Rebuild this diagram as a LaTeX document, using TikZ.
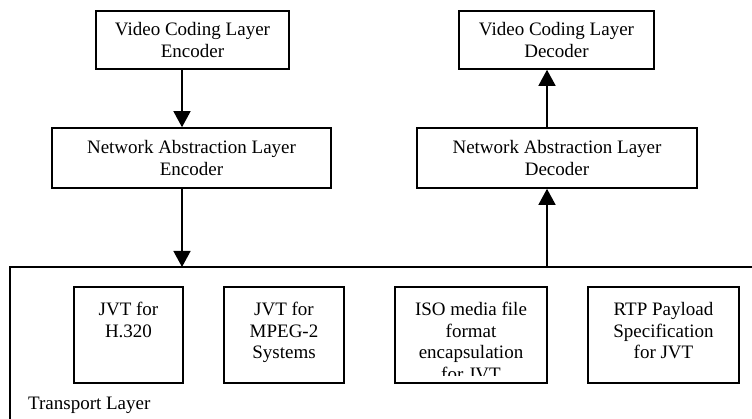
\documentclass[tikz,border=0pt]{standalone}
\usepackage{fontspec}
\setmainfont{Liberation Serif}
\usetikzlibrary{arrows.meta}
\begin{document}
\begin{tikzpicture}[x=1pt,y=-1pt,
  every node/.style={font=\fontsize{19}{21.5}\selectfont},
  layerbox/.style={draw, line width=1.6pt, align=center, inner sep=0pt},
  subbox/.style={draw, line width=1.6pt, inner sep=0pt},
  subtext/.style={align=center, anchor=north, inner sep=0pt},
  flow/.style={line width=1.4pt, -{Triangle[width=17pt,length=16pt]}},
  frame/.style={line width=1.6pt}]
\useasboundingbox (0,0) rectangle (752,419);
% top boxes
\node[layerbox, minimum width=193pt, minimum height=58pt] (vcle) at (192.5,40) {Video Coding Layer\\Encoder};
\node[layerbox, minimum width=279pt, minimum height=60pt] (nale) at (191.5,158) {Network Abstraction Layer\\Encoder};
\node[layerbox, minimum width=195pt, minimum height=58pt] (vcld) at (556.5,40) {Video Coding Layer\\Decoder};
\node[layerbox, minimum width=280pt, minimum height=60pt] (nald) at (557,158) {Network Abstraction Layer\\Decoder};
% transport layer frame
\coordinate (tl) at (10,267);
\coordinate (tbl) at (10,419);
\coordinate (ttr) at (752,267);
\draw[frame] (tbl) -- (tl) -- (ttr);
\coordinate (encx) at (182,0);
\coordinate (decx) at (547,0);
% arrows
\draw[flow] (vcle.south -| encx) -- (nale.north -| encx);
\draw[flow] (nale.south -| encx) -- (encx |- tl);
\draw[flow] (decx |- tl) -- (nald.south -| decx);
\draw[flow] (nald.north -| decx) -- (vcld.south -| decx);
% sub boxes
\node[subbox, minimum width=109pt, minimum height=96pt] (h320) at (128.5,335) {};
\node[subtext] (h320t) at ([yshift=-16pt]h320.north) {JVT for\\H.320};
\node[subbox, minimum width=120pt, minimum height=96pt] (mpeg) at (284,335) {};
\node[subtext] (mpegt) at ([yshift=-16pt]mpeg.north) {JVT for\\MPEG-2\\Systems};
\node[subbox, minimum width=152pt, minimum height=96pt] (iso) at (471,335) {};
\begin{scope}
\clip ([yshift=-1pt]iso.north west) rectangle ([yshift=8.5pt]iso.south east);
\node[subtext] (isot) at ([yshift=-16pt]iso.north) {ISO media file\\format\\encapsulation\\for JVT};
\end{scope}
\node[subbox, minimum width=151pt, minimum height=96pt] (rtp) at (663.5,335) {};
\node[subtext] (rtpt) at ([yshift=-16pt]rtp.north) {RTP Payload\\Specification\\for JVT};
\node[anchor=west, inner sep=0pt] (tlabel) at (28,405) {Transport Layer};
\end{tikzpicture}
\end{document}
